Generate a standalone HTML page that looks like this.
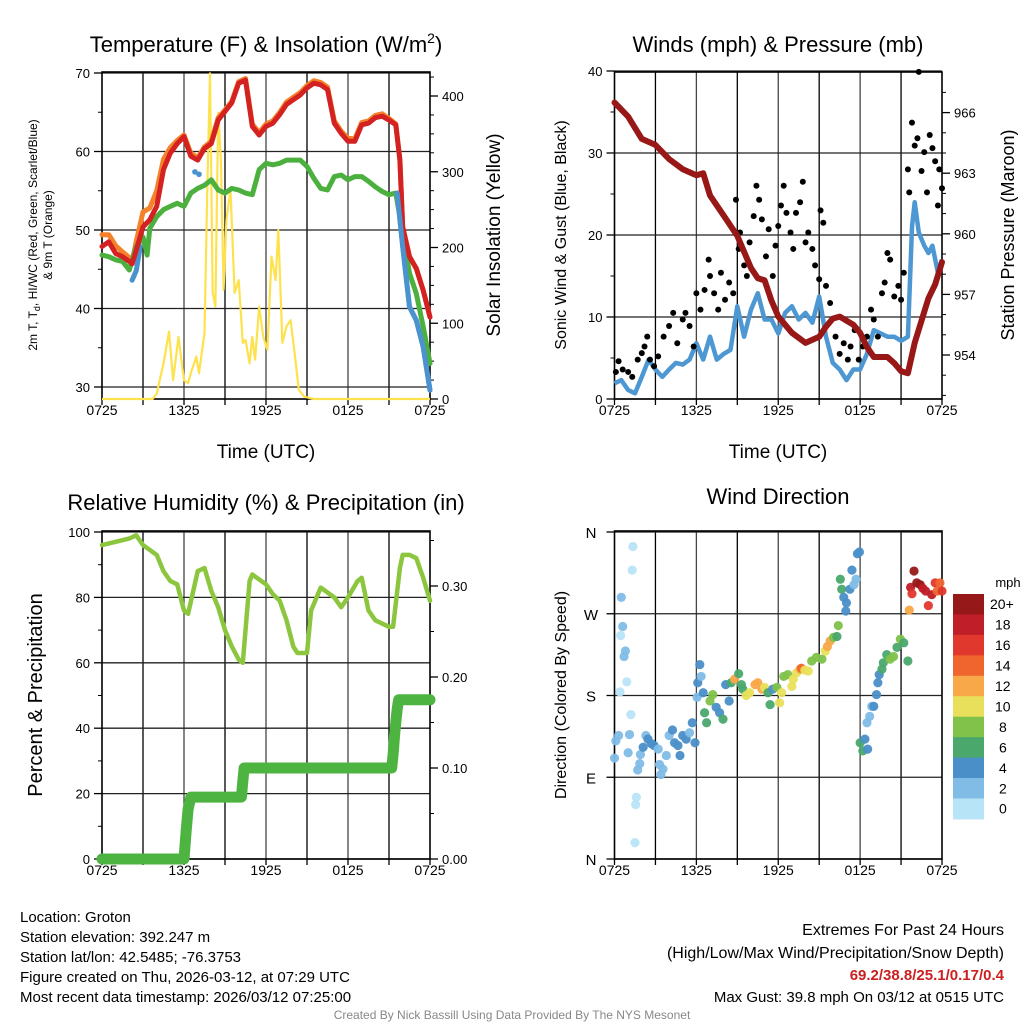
<!DOCTYPE html>
<html><head><meta charset="utf-8"><style>
html,body{margin:0;padding:0;background:#fff;}
svg{display:block;font-family:"Liberation Sans",sans-serif;}
</style></head><body>
<svg id="c" width="1024" height="1024" viewBox="0 0 1024 1024"></svg>
<script>
// ---- Panel 1 data (hours since 0725 UTC) ----
const tempT=[0,0.5,1,1.5,2,2.2,2.5,3,3.5,4,4.5,5,5.5,6,6.5,7,7.5,8,8.5,9,9.5,10,10.5,11,11.5,12,12.5,13,13.5,14,14.5,15,15.5,16,16.5,17,17.5,18,18.5,19,19.5,20,20.5,21,21.5,21.8,22,22.5,23,23.5,24];
const tempV=[47.9,48.5,47,46.6,46,45.7,47.4,50.4,51.3,53,57.7,59.8,61,61.9,59.4,58.9,60.4,61,64,65.1,66.2,68.7,69.1,63.2,62.1,63.2,63.6,64.7,66,66.6,67.2,68.1,68.7,68.5,67.9,63.6,62.3,61.3,61.3,63.4,63.6,64.3,64.5,64,63.4,58.9,50.4,46.6,45.1,42.3,38.9];
const temp9V=[49.4,49.4,48,47.2,46.5,46,48.5,52.3,52.8,55,59,60.5,61.4,62.1,59.8,59.2,60.6,61.3,64.3,65.3,66.4,68.9,69.3,63.5,62.4,63.5,63.9,65,66.3,66.9,67.5,68.4,69,68.8,68.2,63.9,62.6,61.7,61.6,63.7,63.9,64.6,64.8,64.2,63.5,58.9,50.4,46.6,45.1,42.3,38.9];
const dewT=[0,0.5,1,1.5,2,2.5,3,3.3,3.5,4,4.5,5,5.5,6,6.5,7,7.5,8,8.5,9,9.5,10,10.5,11,11.5,12,12.5,13,13.5,14,14.5,15,15.5,16,16.5,17,17.5,18,18.5,19,19.5,20,20.5,21,21.5,22,22.5,23,23.5,24];
const dewV=[46.8,46.6,46.2,46,44.9,47.9,49.1,46.8,50.2,51.7,52.6,53,53.4,53,54.7,55.3,55.7,56.4,55.1,54.7,55.3,55.1,54.7,54.5,57.7,58.5,58.3,58.5,58.9,58.9,58.9,58.1,56.6,55.3,55.1,56.8,57,56.4,56.8,56.8,56.2,55.5,54.9,54.5,54.7,49.6,44.5,41.9,37.7,33];
const hiwcT1=[2.2,2.5,2.8];
const hiwcV1=[43.6,44.8,47.9];
const hiwcT2=[21.6,22,22.5,23,23.5,24];
const hiwcV2=[54.7,47.9,40.2,38.5,35.1,29.6];
const hiwcDotT=[6.8,7.1];
const hiwcDotV=[57.4,57.1];
const solT=[0,3.7,4,4.5,4.9,5.2,5.6,6,6.3,6.5,6.9,7.1,7.5,7.7,7.9,8.1,8.3,8.5,8.7,8.9,9.1,9.4,9.7,10,10.3,10.5,10.8,11,11.2,11.5,11.8,12.1,12.4,12.7,12.9,13.2,13.5,13.8,14.1,14.4,14.8,15.5,24];
const solV=[0,0,7,47,89,25,82,25,21,34,56,34,87,272,430,140,122,378,316,144,237,276,140,157,74,78,47,82,52,122,82,65,188,157,223,74,96,104,60,12,3,0,0];
// ---- Panel 2 data ----
const presT=[0,1,2,3,4,5,6,6.5,7,8,9,10,10.5,11,11.5,12,13,14,15,15.5,16,16.5,17,17.5,18,18.5,19,19.5,20,20.5,21,21.5,22,22.5,23,23.5,24];
const presV=[966.5,965.8,964.7,964.4,963.7,963.2,962.9,963,961.9,960.9,959.9,958.3,957.8,957.7,956.7,955.9,955.1,954.6,954.9,955.4,955.8,955.9,955.7,955.5,955.1,954.4,953.9,953.9,953.9,953.6,953.2,953.1,954.6,955.7,956.8,957.5,958.6];
const windT=[0,0.5,1,1.5,2,2.5,3,3.5,4,4.5,5,5.5,6,6.5,7,7.5,8,8.5,9,9.5,10,10.5,11,11.5,12,12.5,13,13.5,14,14.5,15,15.5,16,16.5,17,17.5,18,18.5,19,19.5,20,20.5,21,21.5,21.8,22,22.3,22.7,23,23.3,23.7,24];
const windV=[1.9,2.3,1.1,0.7,2.7,4.8,3.6,2.7,3.6,4.4,4.2,4.8,6.8,4.8,7.6,4.8,5.5,6,11.3,7.6,10.9,12.9,9.7,9.7,8,10.5,11.3,9.7,10.5,9.3,12.5,7.6,4.4,3.6,2.3,3.6,3.6,5.5,8.4,8,7.6,7.6,7.1,7.6,21,24,20.3,18.7,17.8,18.7,15.4,17];
const gustT=[0.1,0.3,0.6,1,1.3,1.7,2,2.2,2.4,2.6,2.9,3.2,3.6,4,4.3,4.6,5,5.2,5.5,5.8,6,6.3,6.6,6.9,7,7.3,7.6,7.8,8.1,8.4,8.7,8.9,9.1,9.2,9.5,9.7,9.9,10.2,10.4,10.6,10.8,11.1,11.3,11.6,11.8,12,12.2,12.4,12.6,12.9,13.1,13.3,13.6,13.8,14,14.2,14.5,14.7,15,15.1,15.3,15.5,15.8,16.2,16.5,16.8,17.1,17.3,17.6,17.9,18.2,18.5,18.8,19,19.3,19.6,19.8,20,20.2,20.5,20.8,21,21.2,21.5,21.6,21.8,22,22.2,22.3,22.5,22.7,22.9,23.1,23.3,23.5,23.7,23.8,24];
const gustV=[3.3,4.6,3.6,3.3,2.7,4.8,5.6,6.4,7.6,4.8,4,5.2,7.6,8.9,10.5,6.8,9.7,10.5,8.9,6.4,12.9,10.9,13.3,17,15,12.9,10.9,15.4,12.1,14.2,12.9,24.3,18.3,20.3,16.3,15,19.1,22.3,26,24.3,21.9,17.4,20.7,15,18.7,21.1,23.6,26,22.7,20.3,18.3,22.7,24,26.5,19.1,20.3,18.3,16.3,14.6,23,21.5,13.8,11.7,7.6,5.5,6.8,4.8,6.4,8.4,4.8,6.4,7.6,10.9,9.7,7.6,12.9,14.2,17.8,17,12.5,13.8,12.1,15.4,28,25.2,33.7,30.9,31.8,39.9,27.8,30.1,25.2,32.2,30.6,29,23.6,28,25.7];
// ---- Panel 3 data ----
const rhT=[0,1,2,2.5,3,4,4.5,5,5.5,6,6.3,7,7.5,8,8.5,9,9.5,10,10.3,10.8,11,12,12.5,13,13.5,14,14.3,15,15.3,16,17,17.5,18,18.7,19,19.5,20,21,21.3,21.8,22,22.5,23,23.5,24];
const rhV=[96,97,98,99,96,93,88,85,84,76,75,88,89,82,77,70,65,61,60,85,87,84,81,79,73,65,63,63,76,83,80,77,80,85,86,76,73,71,71,89,93,93,92,86,79];
const prT=[0,6.0,6.15,6.3,6.5,10.2,10.3,10.4,21.2,21.3,21.4,21.5,21.6,21.7,24];
const prV=[0,0,0.03,0.055,0.068,0.068,0.085,0.1,0.1,0.115,0.135,0.15,0.165,0.175,0.175];
// ---- Panel 4 data ----
const dirT=[0,0.1,0.3,0.5,0.45,0.6,0.8,0.7,0.9,0.4,1.0,1.1,1.2,1.35,1.3,1.6,1.55,1.5,1.7,1.85,1.9,2.1,2.3,2.45,2.7,2.9,3.2,3.3,3.55,3.4,3.8,4.0,4.25,4.4,4.65,4.8,5.0,5.25,5.5,5.7,5.9,6.05,6.1,6.25,6.35,6.5,6.6,6.75,7.0,7.2,7.45,7.7,7.95,8.15,8.4,8.55,8.8,9.1,9.3,9.4,9.65,9.9,10.3,10.5,10.8,11.0,11.25,11.4,11.6,11.9,12.1,12.25,12.4,12.7,13.0,13.1,13.35,13.6,13.7,13.95,14.2,14.45,14.8,15.2,15.45,15.6,15.8,16.05,16.3,16.4,16.55,16.65,16.8,17.0,16.95,17.25,17.4,17.55,17.7,17.8,17.95,18.0,18.2,18.35,18.55,18.5,18.7,18.85,19.0,19.2,19.3,19.4,19.6,19.7,19.95,20.2,20.45,20.7,20.95,21.2,21.5,21.6,21.7,21.8,21.95,22.15,22.4,22.6,22.8,23.0,23.25,23.5,23.65,23.85,24.0];
const dirV=[111,130,136,288,246,256,229,223,195,184,117,137,159,344,318,68,60,18,98,105,115,123,136,132,127,125,121,104,99,93,114,136,142,128,125,114,136,132,139,150,128,178,194,214,201,183,161,150,174,181,167,161,154,192,174,194,198,204,192,187,180,183,192,194,187,189,183,170,187,189,172,183,201,203,190,198,205,209,210,208,207,218,222,220,229,234,240,244,245,257,308,297,288,282,273,297,318,302,308,336,338,128,119,132,121,150,157,168,168,181,194,203,209,216,225,220,223,233,242,238,218,274,299,292,317,304,302,298,295,279,291,304,295,304,295];
const dirSpd=[3,2,2,2,1.5,2,2,2,1,0.5,2,2,1,0.5,0.5,1,1,0.5,2,2,2,4,3,4,4,4,3,2,2,2,2,3,4,4,4,4,4,4,3,4,4,3,4,4,3,4,7,7,8,8,4,4,6,4,4,6,12,6,7,6,10,10,12,13,12,10,7,7,4,8,10,10,8,8,10,10,10,12,14,10,10,8,8,8,10,12,12,8,6,8,6,6,4,4,4,4,4,3,2,4,4,6,6,4,4,2,2,3,4,4,4,4,6,6,6,8,8,6,8,6,6,12,18,16,20,20,20,18,18,16,18,16,14,14,16];
const spdColors=["#b8e4f8","#80bce6","#4a8fc8","#4aa86c","#80c24a","#e8e05a","#f8a848","#f0652e","#e0382c","#c01e28","#961818"];
const cbLabels=["0","2","4","6","8","10","12","14","16","18","20+"];
const xTickLabels=["0725","1325","1925","0125","0725"];

const NS="http://www.w3.org/2000/svg";
const svg=document.getElementById('c');
function mk(tag,attrs,parent){const e=document.createElementNS(NS,tag);for(const k in attrs)e.setAttribute(k,attrs[k]);(parent||svg).appendChild(e);return e;}
function txt(s,x,y,size,anchor,extra,parent){const e=mk('text',Object.assign({x:x,y:y,'font-size':size,'text-anchor':anchor||'middle',fill:'#000'},extra||{}),parent);e.textContent=s;return e;}
function pathOf(ts,vs,fx,fy){let d='';for(let i=0;i<ts.length;i++){d+=(i?'L':'M')+fx(ts[i]).toFixed(1)+','+fy(vs[i]).toFixed(1);}return d;}

const L1=102,R1=430,L2=614.5,R2=942,T1=72,B1=399,T3=531,B3=859;
const xA=t=>L1+t*(R1-L1)/24;
const xB=t=>L2+t*(R2-L2)/24;
const yT=v=>73+(70-v)*7.85;
const yI=v=>399-v*0.7575;
const yW=v=>399-v*8.2;
const yP=p=>355-(p-954)*20.2;
const yRH=v=>859-v*3.27;
const yPr=p=>859-p*910;
const yD=d=>859-d*327/360;

function frame(L,R,T,B,hLines,name){
  const g=mk('g',{});
  
  
  for(let i=1;i<8;i++){const x=L+i*(R-L)/8;mk('line',{x1:x,x2:x,y1:T,y2:B,stroke:i%2?'#000':'#444','stroke-width':1.3},g);}
  hLines.forEach(y=>mk('line',{x1:L,x2:R,y1:y,y2:y,stroke:'#222','stroke-width':1.3},g));
  const f=mk('rect',{x:L,y:T,width:R-L,height:B-T,fill:'none',stroke:'#000','stroke-width':1.6});
  
  
  const xt=mk('g',{});
  
  
  for(let i=0;i<=8;i++){const x=L+i*(R-L)/8;mk('line',{x1:x,x2:x,y1:B,y2:B+6,stroke:'#000','stroke-width':1.3},xt);}
  xTickLabels.forEach((s,i)=>txt(s,L+i*(R-L)/4,B+16,14,'middle',{},xt));
}
function yTicks(vals,fy,x,side,fmt,name,minor){
  const g=mk('g',{});
  
  
  const dir=side==='left'?-1:1;
  vals.forEach(v=>{const y=fy(v);mk('line',{x1:x,x2:x+dir*8,y1:y,y2:y,stroke:'#000','stroke-width':1.3},g);
    txt(fmt(v),x+dir*12,y+5,13,side==='left'?'end':'start',{},g);});
  (minor||[]).forEach(v=>{const y=fy(v);mk('line',{x1:x,x2:x+dir*4,y1:y,y2:y,stroke:'#000','stroke-width':1},g);});
}
function rot(s,x,y,size,name){const e=txt(s,x,y,size,'middle',{transform:'rotate(-90 '+x+' '+y+')'});return e;}
function title(s,x,y,name){const e=txt(s,x,y,22,'middle');return e;}

// ===== Panel 1 =====
frame(L1,R1,T1,B1,[30,40,50,60,70].map(yT),'temp-panel');
yTicks([30,40,50,60,70],yT,L1,'left',v=>v,'temp-y-axis',[35,45,55,65]);
yTicks([0,100,200,300,400],yI,R1,'right',v=>v,'insolation-y-axis',[25,50,75,125,150,175,225,250,275,325,350,375,425]);
let p;
p=mk('path',{d:pathOf(solT,solV,xA,yI),fill:'none',stroke:'#fde24e','stroke-width':2.2,'stroke-linejoin':'round'});


p=mk('path',{d:pathOf(tempT,temp9V,xA,yT),fill:'none',stroke:'#f5822a','stroke-width':5,'stroke-linejoin':'round','stroke-linecap':'round'});


p=mk('path',{d:pathOf(hiwcT1,hiwcV1,xA,yT)+pathOf(hiwcT2,hiwcV2,xA,yT),fill:'none',stroke:'#4a93cf','stroke-width':5,'stroke-linejoin':'round','stroke-linecap':'round'});


hiwcDotT.forEach((t,i)=>{const c=mk('circle',{cx:xA(t),cy:yT(hiwcDotV[i]),r:2.8,fill:'#4a93cf'});

});
p=mk('path',{d:pathOf(dewT,dewV,xA,yT),fill:'none',stroke:'#4cb03f','stroke-width':5,'stroke-linejoin':'round','stroke-linecap':'round'});


p=mk('path',{d:pathOf(tempT,tempV,xA,yT),fill:'none',stroke:'#d42222','stroke-width':5,'stroke-linejoin':'round','stroke-linecap':'round'});


p=mk('path',{d:pathOf(hiwcT2,hiwcV2,xA,yT),fill:'none',stroke:'#4a93cf','stroke-width':5,'stroke-linejoin':'round','stroke-linecap':'round'});


const t1=txt('',266,52,22);t1.innerHTML='Temperature (F) &amp; Insolation (W/m<tspan font-size="14" dy="-9">2</tspan><tspan dy="9">)</tspan>';


const yl=txt('',37,235,12,'middle',{transform:'rotate(-90 37 235)'});yl.innerHTML='2m T, T<tspan font-size="9" dy="3">d</tspan><tspan dy="-3">, HI/WC (Red, Green, Scarlet/Blue)</tspan>';


rot('& 9m T (Orange)',52,235,12,'temp-y-axis-title-line2');
rot('Solar Insolation (Yellow)',500,235,19,'insolation-y-axis-title');
const xt1=txt('Time (UTC)',266,458,19);

// ===== Panel 2 =====
frame(L2,R2,T1,B1,[0,10,20,30,40].map(yW),'wind-panel');
yTicks([0,10,20,30,40],yW,L2,'left',v=>v,'wind-y-axis',[5,15,25,35]);
yTicks([954,957,960,963,966],yP,R2,'right',v=>v,'pressure-y-axis',[952,953,955,956,958,959,961,962,964,965,967]);
p=mk('path',{d:pathOf(windT,windV,xB,yW),fill:'none',stroke:'#4d97d2','stroke-width':4.5,'stroke-linejoin':'round'});


gustT.forEach((t,i)=>{const c=mk('circle',{cx:xB(t),cy:yW(gustV[i]),r:3,fill:'#000'});

});
p=mk('path',{d:pathOf(presT,presV,xB,yP),fill:'none',stroke:'#981818','stroke-width':6,'stroke-linejoin':'round','stroke-linecap':'round'});


title('Winds (mph) & Pressure (mb)',778,52,'wind-title');
rot('Sonic Wind & Gust (Blue, Black)',566,235,16,'wind-y-axis-title');
rot('Station Pressure (Maroon)',1014,235,18,'pressure-y-axis-title');
const xt2=txt('Time (UTC)',778,458,19);

// ===== Panel 3 =====
frame(L1,R1,T3,B3,[0,20,40,60,80,100].map(yRH),'rh-panel');
yTicks([0,20,40,60,80,100],yRH,L1,'left',v=>v,'rh-y-axis',[10,30,50,70,90]);
yTicks([0,0.1,0.2,0.3],yPr,R1,'right',v=>v.toFixed(2),'precip-y-axis',[0.05,0.15,0.25,0.35]);
p=mk('path',{d:pathOf(rhT,rhV,xA,yRH),fill:'none',stroke:'#8cc63e','stroke-width':4.5,'stroke-linejoin':'round','stroke-linecap':'round'});


p=mk('path',{d:pathOf(prT,prV,xA,yPr),fill:'none',stroke:'#4db442','stroke-width':11,'stroke-linejoin':'round','stroke-linecap':'round'});


title('Relative Humidity (%) & Precipitation (in)',266,510,'rh-title');
rot('Percent & Precipitation',42,695,20,'rh-y-axis-title');

// ===== Panel 4 =====
frame(L2,R2,T3,B3,[0,90,180,270,360].map(yD),'direction-panel');
const dl=mk('g',{});


['N','E','S','W','N'].forEach((s,i)=>{const y=yD(i*90);mk('line',{x1:L2,x2:L2-8,y1:y,y2:y,stroke:'#000','stroke-width':1.3},dl);txt(s,591,y+6,15,'middle',{},dl);});
dirT.forEach((t,i)=>{const ci=Math.min(10,Math.floor(dirSpd[i]/2));const c=mk('circle',{cx:xB(t),cy:yD(dirV[i]),r:4.6,fill:spdColors[ci],'fill-opacity':0.95});

});
title('Wind Direction',778,504,'direction-title');
rot('Direction (Colored By Speed)',566,695,16,'direction-y-axis-title');
const cb=mk('g',{});


const cbTop=594,cbH=20.45;
txt('mph',1008,587,13,'middle',{},cb);
for(let i=0;i<11;i++){const idx=10-i;const y=cbTop+i*cbH;
  mk('rect',{x:953,y:y,width:31,height:cbH+0.5,fill:spdColors[idx]},cb);
  const lx=cbLabels[idx]==='20+'?990:(cbLabels[idx].length===2?995:999);
  txt(cbLabels[idx],lx,y+cbH/2+5,14,'start',{},cb);}

// ===== Footer text =====
const info=mk('g',{});


['Location: Groton','Station elevation: 392.247 m','Station lat/lon: 42.5485; -76.3753','Figure created on Thu, 2026-03-12, at 07:29 UTC','Most recent data timestamp: 2026/03/12 07:25:00'].forEach((s,i)=>txt(s,20,922+i*20,15,'start',{},info));
const ex=mk('g',{});


txt('Extremes For Past 24 Hours',1004,935,16,'end',{},ex);
txt('(High/Low/Max Wind/Precipitation/Snow Depth)',1004,958,16,'end',{},ex);
txt('69.2/38.8/25.1/0.17/0.4',1004,980,15,'end',{fill:'#cc1f1f','font-weight':'bold'},ex);
txt('Max Gust: 39.8 mph On 03/12 at 0515 UTC',1004,1002,15,'end',{},ex);
const cr=txt('Created By Nick Bassill Using Data Provided By The NYS Mesonet',512,1019,12,'middle',{fill:'#888'});


</script>
</body></html>
